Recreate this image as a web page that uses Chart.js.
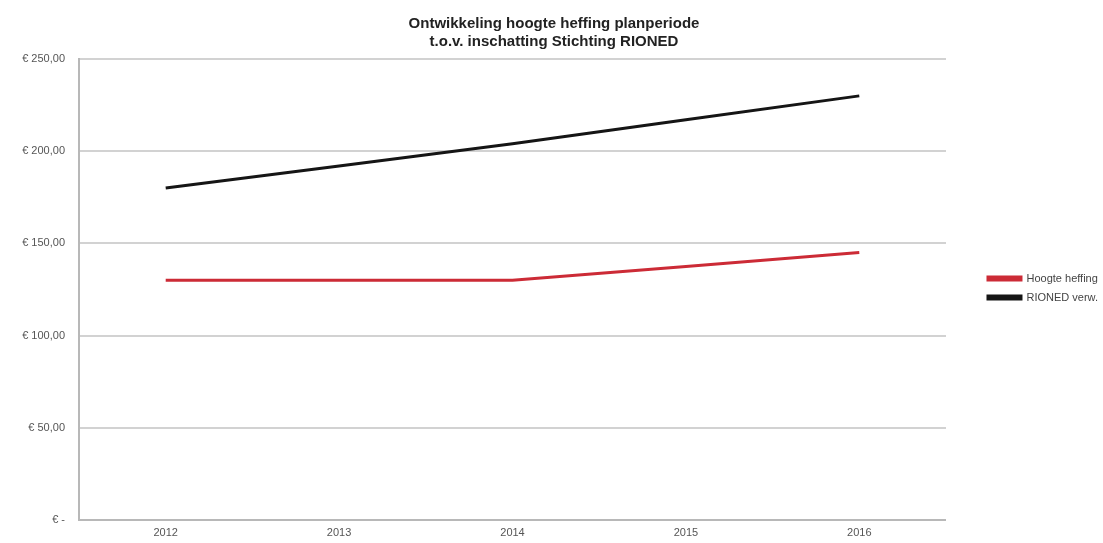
<!DOCTYPE html>
<html>
<head>
<meta charset="utf-8">
<script src="https://cdn.jsdelivr.net/npm/chart.js@4/dist/chart.umd.min.js"></script>
<style>
  html, body { margin: 0; padding: 0; background: #fff; overflow: hidden; }
  #wrap { width: 1108px; height: 543px; }
</style>
</head>
<body>
<div id="wrap"><canvas id="chart"></canvas></div>
<script>
// Data
const years = ["2012", "2013", "2014", "2015", "2016"];
const hoogteHeffing = [130, 130, 130, 137.5, 145];
const rionedVerw = [180, 192, 204, 217, 230];
const yTicks = [0, 50, 100, 150, 200, 250];

const titleLines = ["Ontwikkeling hoogte heffing planperiode", "t.o.v. inschatting Stichting RIONED"];

function euro(value) {
    if (value === 0) return "€ -";
    return "€ " + value.toFixed(2).replace(".", ",");
}

Chart.defaults.font.family = "'Liberation Sans', Arial, sans-serif";
Chart.defaults.color = "#555";

const ctx = document.getElementById("chart").getContext("2d");
new Chart(ctx, {
    type: "line",
    data: {
        labels: years,
        datasets: [
            {
                label: "Hoogte heffing",
                data: hoogteHeffing,
                borderColor: "#cc2b36",
                backgroundColor: "#cc2b36",
                borderWidth: 3,
                pointRadius: 0,
                tension: 0
            },
            {
                label: "RIONED verw.",
                data: rionedVerw,
                borderColor: "#151515",
                backgroundColor: "#151515",
                borderWidth: 3,
                pointRadius: 0,
                tension: 0
            }
        ]
    },
    options: {
        responsive: true,
        maintainAspectRatio: false,
        animation: false,
        layout: { padding: { left: 0, right: 0, top: 0, bottom: 0 } },
        plugins: {
            title: {
                display: true,
                text: titleLines,
                color: "#222",
                font: { size: 15, weight: "bold", lineHeight: 1.2 },
                padding: { top: 15, bottom: 8 }
            },
            legend: {
                position: "right",
                align: "center",
                // blank title only pushes the items down to the plot's middle
                title: {
                    display: true,
                    text: " ",
                    font: { size: 11 },
                    padding: { top: 0, bottom: 20 }
                },
                labels: {
                    boxWidth: 33,
                    boxHeight: 3,
                    padding: 8,
                    color: "#444",
                    font: { size: 11 }
                }
            },
            tooltip: { enabled: false }
        },
        scales: {
            x: {
                offset: true,
                afterFit: (axis) => { axis.height = 23; },
                grid: { display: false, drawTicks: false },
                border: { color: "#b8b8b8", width: 2 },
                ticks: { color: "#555", font: { size: 11 }, padding: 6 }
            },
            y: {
                min: 0,
                max: 250,
                afterBuildTicks: (axis) => {
                    axis.ticks = yTicks.map(v => ({ value: v }));
                },
                afterFit: (axis) => { axis.width = 79; },
                grid: { color: "#d2d2d2", lineWidth: 2, drawTicks: false },
                border: { color: "#b8b8b8", width: 2 },
                ticks: {
                    color: "#555",
                    font: { size: 11 },
                    padding: 14,
                    callback: (value) => euro(value)
                }
            },
            // empty space between the plot and the legend
            gap: {
                position: "right",
                afterFit: (axis) => { axis.width = 34; },
                grid: { display: false, drawTicks: false },
                border: { display: false },
                ticks: { display: false }
            }
        }
    }
});
</script>
</body>
</html>
